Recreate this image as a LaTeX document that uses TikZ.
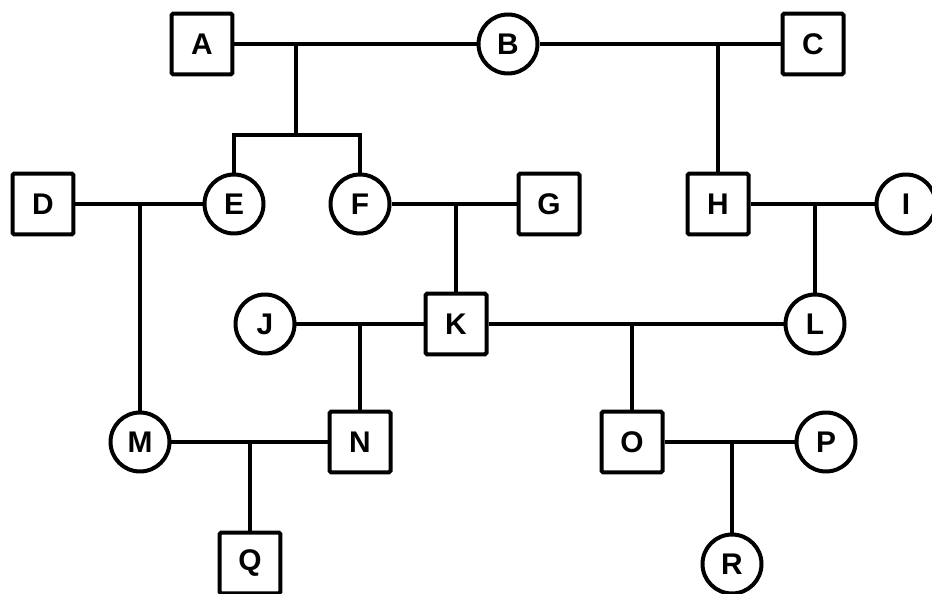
\documentclass[tikz,border=0pt]{standalone}
\usepackage{fontspec}
\setmainfont{Liberation Sans}

\begin{document}
\begin{tikzpicture}[x=0.02cm,y=-0.02cm,line width=0.08cm,%
        lbl/.style={font=\bfseries\fontsize{17}{20}\selectfont},%
        m/.style={rectangle, draw, fill=white, lbl, rounded corners=1pt,%
                        inner sep=0pt, minimum size=1.22cm},%
        f/.style={circle, draw, fill=white, lbl,%
                        inner sep=0pt, minimum size=1.18cm}]
\useasboundingbox (0,0) rectangle (932,594);
% first generation
\node[m] (A) at (202,44) {A};
\node[f] (B) at (508,44) {B};
\node[m] (C) at (813,44) {C};
% second generation
\node[m] (D) at (43,204) {D};
\node[f] (E) at (234,204) {E};
\node[f] (F) at (360,204) {F};
\node[m] (G) at (549,204) {G};
\node[m] (H) at (718,204) {H};
\node[f] (I) at (906,204) {I};
% third generation
\node[f] (J) at (265,324) {J};
\node[m] (K) at (456,324) {K};
\node[f] (L) at (815,324) {L};
% fourth generation
\node[f] (M) at (140,442) {M};
\node[m] (N) at (360,442) {N};
\node[m] (O) at (632,442) {O};
\node[f] (P) at (826,442) {P};
% fifth generation
\node[m] (Q) at (250,563) {Q};
\node[f] (R) at (732,564) {R};

\draw (A) -- (B) -- (C)
      (D) -- (E)
      (F) -- (G)
      (H) -- (I)
      (J) -- (K) -- (L)
      (M) -- (N)
      (O) -- (P);
\coordinate (ab) at (296,44);
\coordinate (ef) at (296,135);
\draw (ab) -- (ef);
\draw (E.north) |- (ef) -| (F.north);
\foreach \c/\p in {H/B, M/D, K/F, L/H, N/J, O/K, Q/M, R/O}
    \draw (\c) -- (\c |- \p);
\end{tikzpicture}
\end{document}
